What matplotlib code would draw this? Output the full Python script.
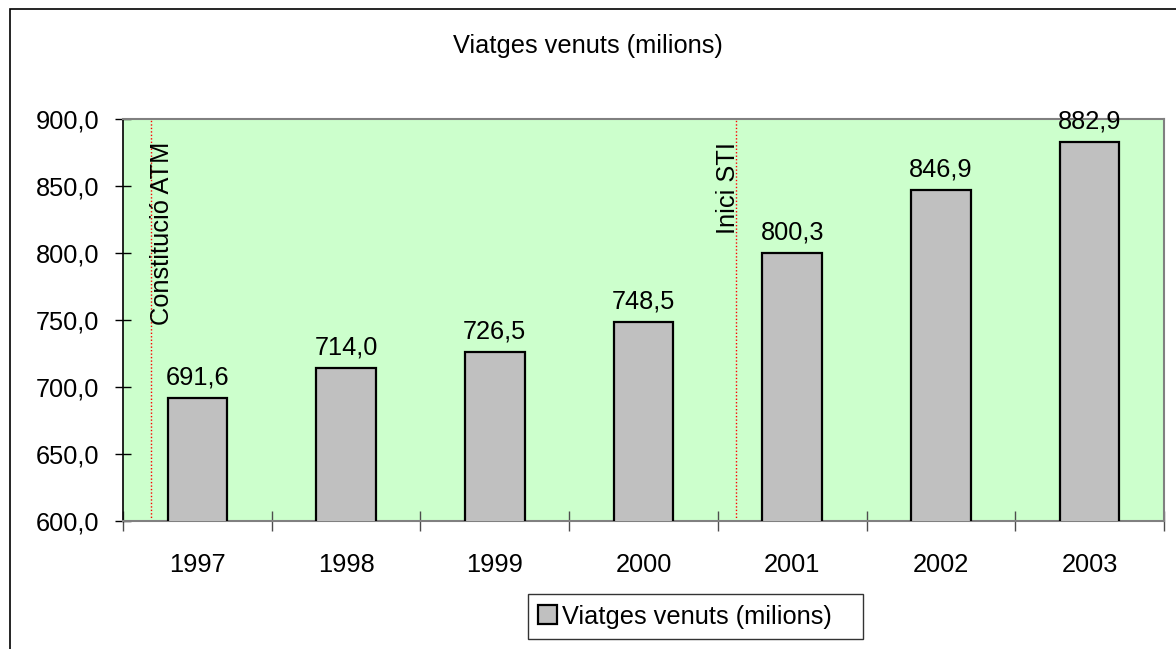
import matplotlib
matplotlib.use("Agg")
import matplotlib.pyplot as plt
from matplotlib.patches import Rectangle
import numpy as np

plt.rcParams["font.family"] = ["Liberation Sans", "DejaVu Sans"]

# ---- data ----
years = ["1997", "1998", "1999", "2000", "2001", "2002", "2003"]
trips = [691.6, 714.0, 726.5, 748.5, 800.3, 846.9, 882.9]
series_name = "Viatges venuts (milions)"

# events marked with dotted red lines (x in category units)
event_x = [-0.31, 3.62]
event_labels = ["Constitució ATM", "Inici STI"]
event_text_x = [-0.235, 3.565]

y_ticks = np.arange(600, 901, 50)

FS = 18.3


def fmt(v):
    return f"{v:.1f}".replace(".", ",")


fig = plt.figure(figsize=(11.76, 6.49), dpi=100)
ax = fig.add_axes([0.1046, 0.1972, 0.8852, 0.6194])

# outer chart frame (cut at right/bottom like the source)
fig.patches.append(Rectangle((10 / 1176, -0.05), 1.2, 1 - 9 / 649 + 0.05,
                             transform=fig.transFigure, fill=False,
                             edgecolor="black", lw=1.2, zorder=0))

ax.set_facecolor("#CCFFCC")
x = np.arange(len(years))
bars = ax.bar(x, trips, width=0.40, color="#C0C0C0", edgecolor="black",
              linewidth=1.6, zorder=3)

for xi, v in zip(x, trips):
    ax.annotate(fmt(v), (xi, v), xytext=(0, 6), textcoords="offset points",
                ha="center", va="bottom", fontsize=FS)

for ex, tx, lab in zip(event_x, event_text_x, event_labels):
    ax.axvline(ex, color="red", lw=1.0, ls=(0, (1, 1.5)), zorder=2)
    ax.text(tx, 883, lab, rotation=90, ha="center", va="top", fontsize=FS)

ax.set_xlim(-0.5, len(years) - 0.5)
ax.set_ylim(600, 900)
ax.set_yticks(y_ticks)
ax.set_yticklabels([fmt(v) for v in y_ticks], fontsize=FS)

# ticks at category boundaries, labels at centres
ax.set_xticks(np.arange(-0.5, len(years), 1.0))
ax.set_xticklabels([])
ax.set_xticks(x, minor=True)
ax.set_xticklabels(years, minor=True, fontsize=FS)
ax.tick_params(axis="x", which="major", direction="inout", length=14,
               width=1.0, color="0.3")
ax.tick_params(axis="x", which="minor", length=0, pad=23)
ax.tick_params(axis="y", direction="inout", length=12, width=1.0, pad=11)

ax.spines["left"].set_color("black")
ax.spines["left"].set_linewidth(1.2)
for s in ("top", "right", "bottom"):
    ax.spines[s].set_color("#808080")
    ax.spines[s].set_linewidth(1.5)

fig.text(0.5, 0.929, series_name, ha="center", va="center", fontsize=FS)

# trailing spaces widen the box on the right, as in the source legend
leg = fig.legend([bars], [series_name + "   "], loc="center",
                 bbox_to_anchor=(0.5914, 0.050), fontsize=FS,
                 frameon=True, fancybox=False, edgecolor="black",
                 handlelength=0.75, handleheight=0.75, handletextpad=0.2,
                 borderpad=0.4, borderaxespad=0)
leg.get_frame().set_linewidth(1.0)

fig.savefig("out.png", dpi=100)
